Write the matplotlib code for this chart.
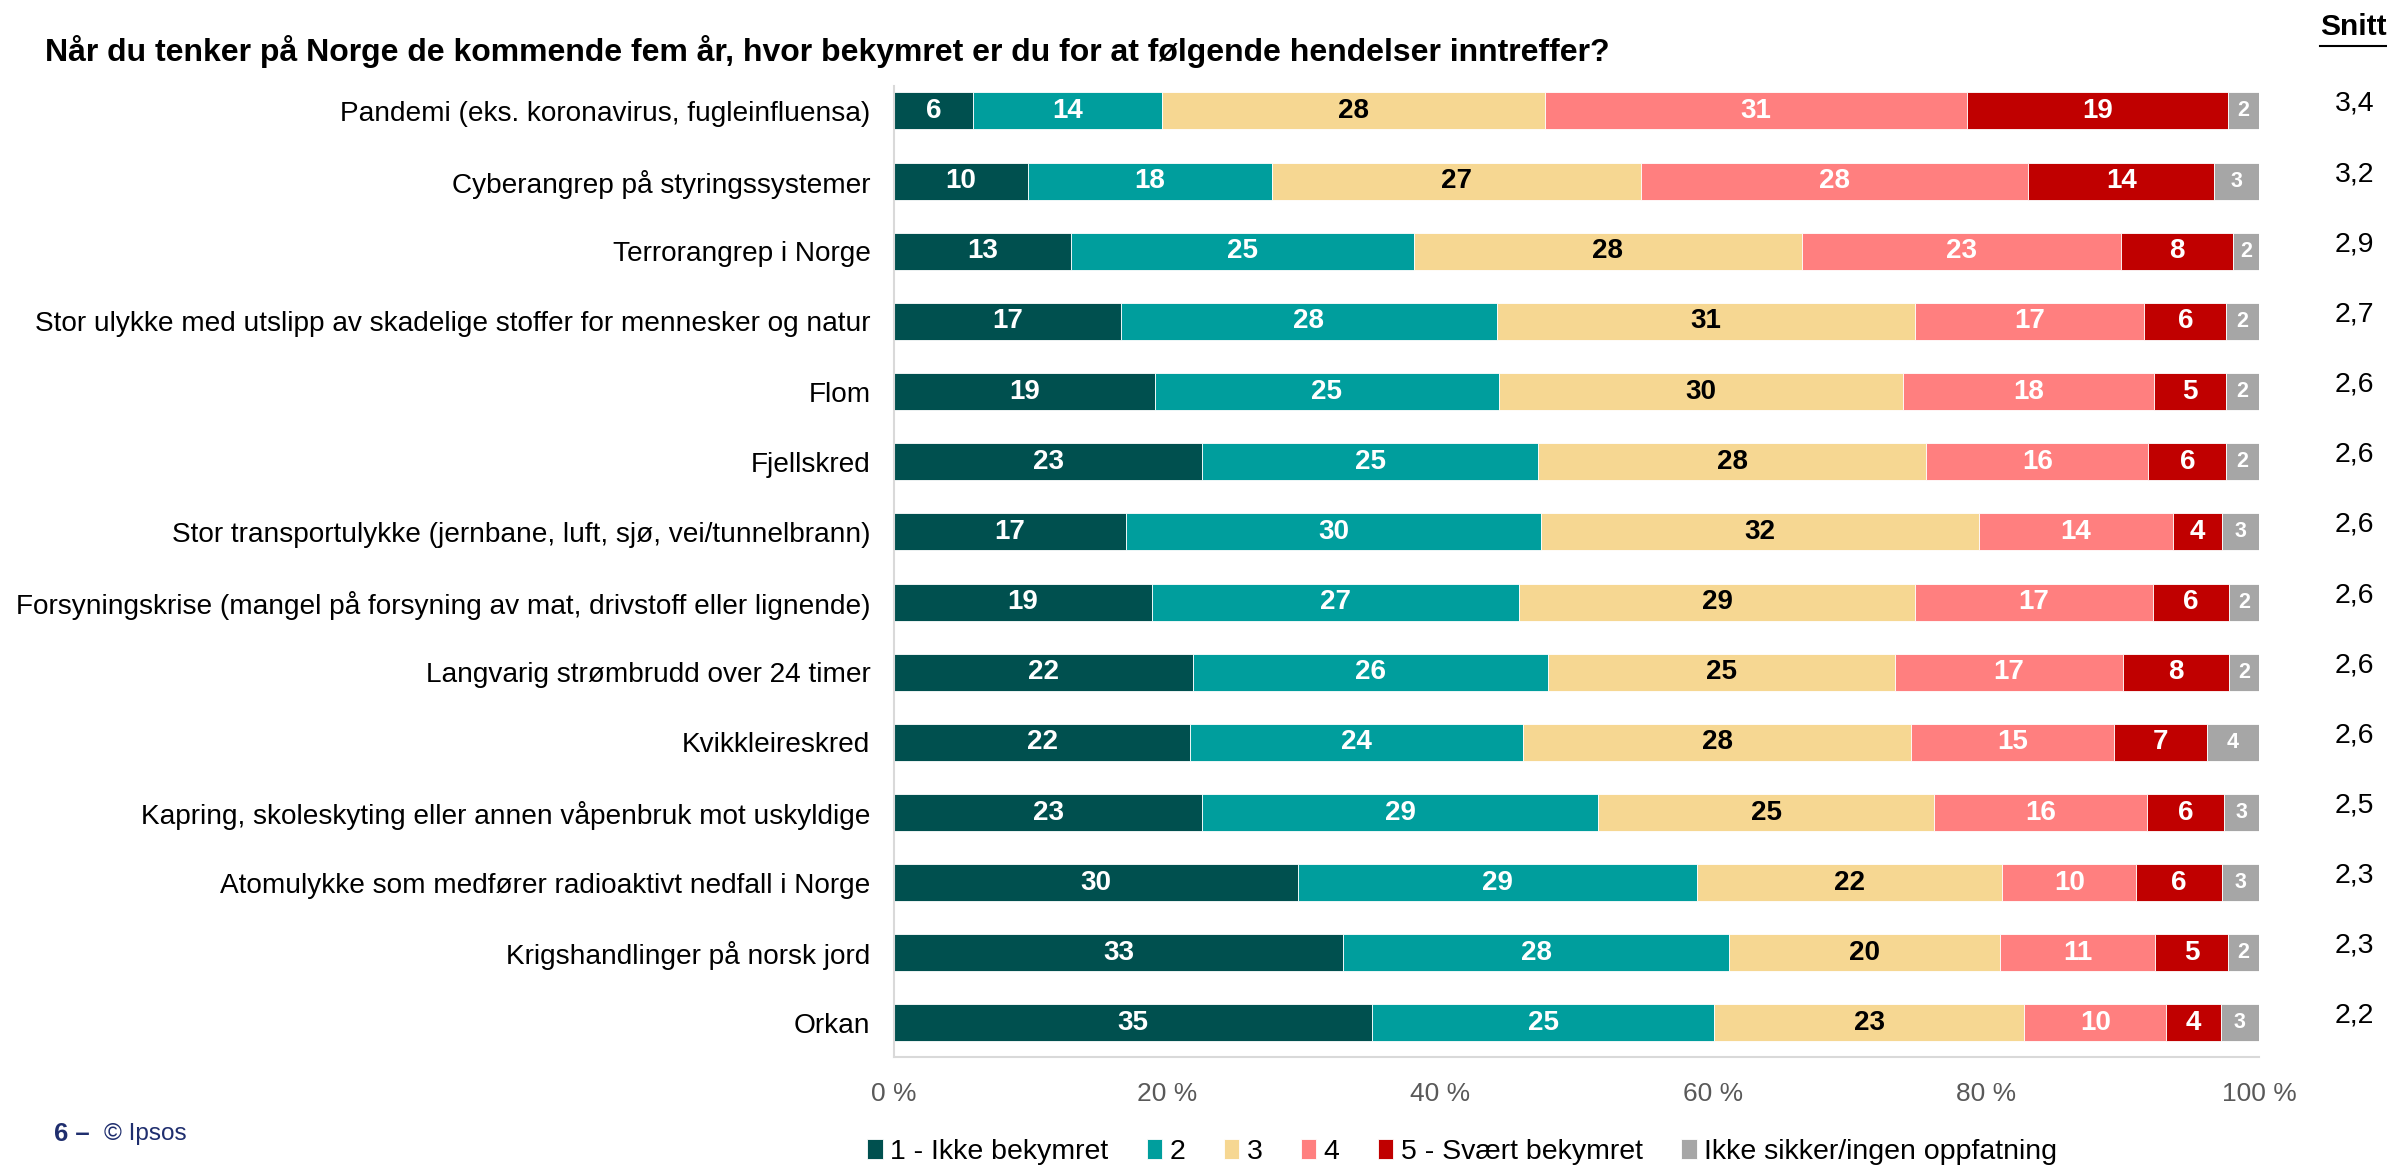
import numpy as np
import matplotlib
matplotlib.use("Agg")
import matplotlib.pyplot as plt
from matplotlib.lines import Line2D

plt.rcParams['font.family'] = ['Liberation Sans', 'DejaVu Sans']

# data (percent)
kategorier = [
    "Pandemi (eks. koronavirus, fugleinfluensa)",
    "Cyberangrep på styringssystemer",
    "Terrorangrep i Norge",
    "Stor ulykke med utslipp av skadelige stoffer for mennesker og natur",
    "Flom",
    "Fjellskred",
    "Stor transportulykke (jernbane, luft, sjø, vei/tunnelbrann)",
    "Forsyningskrise (mangel på forsyning av mat, drivstoff eller lignende)",
    "Langvarig strømbrudd over 24 timer",
    "Kvikkleireskred",
    "Kapring, skoleskyting eller annen våpenbruk mot uskyldige",
    "Atomulykke som medfører radioaktivt nedfall i Norge",
    "Krigshandlinger på norsk jord",
    "Orkan",
]
ikke_bekymret = [5.8, 9.8, 13.0, 16.6, 19.1, 22.6, 17.0, 18.9, 21.9, 21.7, 22.6, 29.6, 32.9, 35.0]
svar_2 = [13.8, 17.9, 25.1, 27.6, 25.2, 24.6, 30.4, 26.9, 26.0, 24.4, 29.0, 29.2, 28.3, 25.1]
svar_3 = [28.1, 27.0, 28.4, 30.6, 29.6, 28.4, 32.1, 29.0, 25.4, 28.4, 24.6, 22.4, 19.8, 22.7]
svar_4 = [30.9, 28.4, 23.4, 16.8, 18.4, 16.3, 14.2, 17.4, 16.7, 14.9, 15.6, 9.8, 11.4, 10.4]
svaert_bekymret = [19.1, 13.6, 8.2, 6.0, 5.3, 5.7, 3.6, 5.6, 7.8, 6.8, 5.6, 6.3, 5.3, 4.0]
ikke_sikker = [2.3, 3.3, 1.9, 2.4, 2.4, 2.4, 2.7, 2.2, 2.2, 3.8, 2.6, 2.7, 2.3, 2.8]
snitt = ["3,4", "3,2", "2,9", "2,7", "2,6", "2,6", "2,6", "2,6", "2,6", "2,6", "2,5", "2,3", "2,3", "2,2"]

serier = ["1 - Ikke bekymret", "2", "3", "4", "5 - Svært bekymret", "Ikke sikker/ingen oppfatning"]
farger = ['#00504F', '#009E9D', '#F6D792', '#FF7F7F', '#C00000', '#A6A6A6']
tekstfarger = ['white', 'white', 'black', 'white', 'white', 'white']

verdier = np.array([ikke_bekymret, svar_2, svar_3, svar_4, svaert_bekymret, ikke_sikker])

fig = plt.figure(figsize=(23.87, 11.69), dpi=100)
ax = fig.add_axes([894/2387, 1-1057/1169, 1365/2387, (1057-86)/1169])

y = np.arange(len(kategorier))
venstre = np.zeros(len(kategorier))
for k in range(len(serier)):
    ax.barh(y, verdier[k], left=venstre, height=0.527, color=farger[k],
            edgecolor='white', linewidth=0.6, label=serier[k])
    fs = 15.5 if k == 5 else 20
    for i in range(len(y)):
        ax.text(venstre[i] + verdier[k][i]/2, y[i], f"{verdier[k][i]:.0f}",
                ha='center', va='center', color=tekstfarger[k],
                fontsize=fs, fontweight='bold')
    venstre += verdier[k]

ax.set_xlim(0, 100)
ax.set_ylim(13.485, -0.356)
ax.set_yticks(y)
ax.set_yticklabels(kategorier, fontsize=20.2)
ax.set_xticks(np.arange(0, 101, 20))
ax.set_xticklabels([f"{v} %" for v in range(0, 101, 20)], fontsize=19, color='#595959')
ax.tick_params(axis='both', length=0)
ax.tick_params(axis='y', pad=17)
ax.tick_params(axis='x', pad=18)
for s in ['top', 'right']:
    ax.spines[s].set_visible(False)
for s in ['left', 'bottom']:
    ax.spines[s].set_color('#D9D9D9')
    ax.spines[s].set_linewidth(1.5)

# snitt column
for i in range(len(y)):
    ax.text(107.0, y[i] - 0.1, snitt[i], ha='center', va='center',
            fontsize=20.5, clip_on=False)

fig.text(45/2387, 1-51/1169,
         "Når du tenker på Norge de kommende fem år, hvor bekymret er du for at følgende hendelser inntreffer?",
         ha='left', va='center', fontsize=23, fontweight='bold')

t = fig.text(2320/2387, 1-27/1169, "Snitt", ha='left', va='center',
             fontsize=21.5, fontweight='bold')
fig.canvas.draw()
bb = t.get_window_extent().transformed(fig.transFigure.inverted())
fig.add_artist(Line2D([bb.x0, bb.x1], [bb.y0 - 0.004, bb.y0 - 0.004],
                      color='black', linewidth=1.5, transform=fig.transFigure))

# footer
fig.text(54/2387, 1-1134/1169, "6 –", ha='left', va='center', fontsize=18.5,
         fontweight='bold', color='#1F2E6E')
fig.text(104/2387, 1-1134/1169, "© Ipsos", ha='left', va='center', fontsize=17.5,
         color='#1F2E6E')

leg = fig.legend(loc='center', bbox_to_anchor=(1462/2387, 1-1152/1169), ncol=6,
                 frameon=False, fontsize=20.5, handlelength=0.55, handleheight=0.7,
                 handletextpad=0.25, columnspacing=1.35, borderaxespad=0)

fig.savefig("out.png", dpi=100)
